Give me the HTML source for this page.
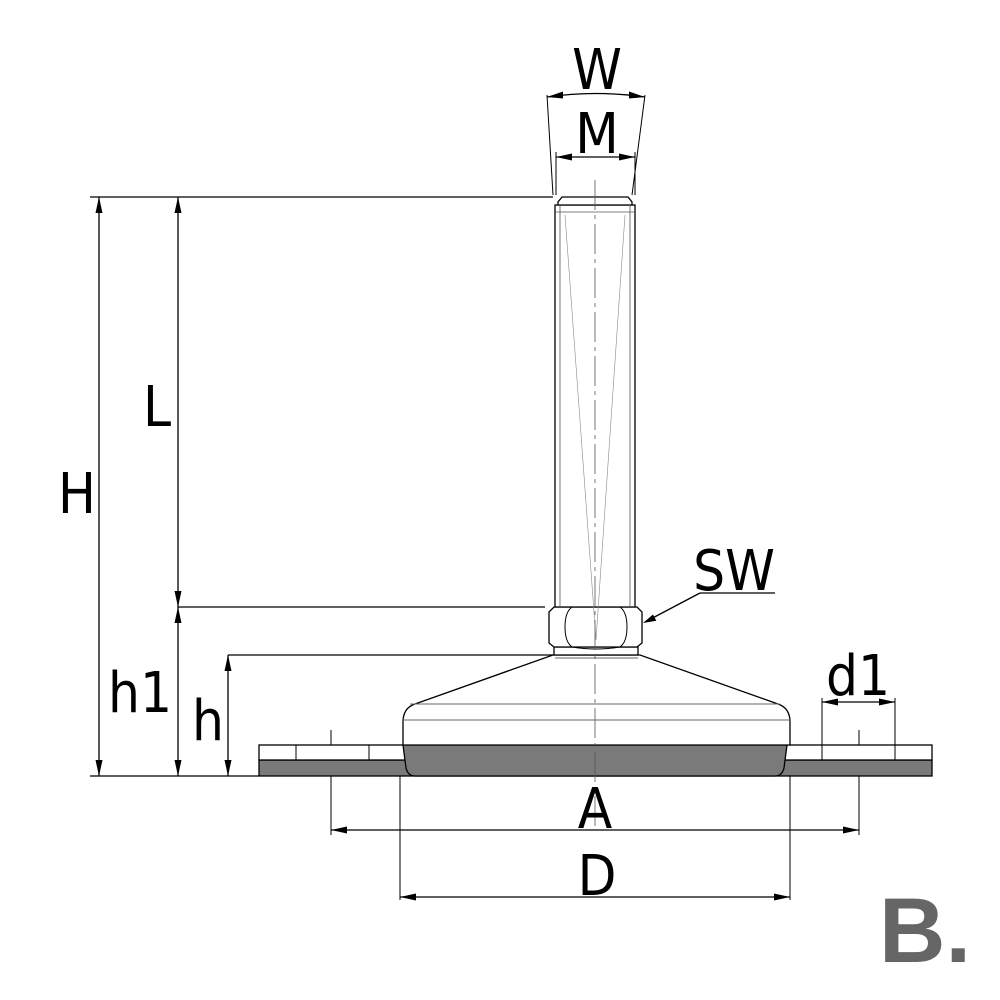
<!DOCTYPE html><html><head><style>body{margin:0;background:#fff}svg{display:block}text{font-family:"DejaVu Sans Condensed","Liberation Sans Narrow","Liberation Sans",sans-serif;fill:#000}</style></head><body>
<svg width="1000" height="1000" viewBox="0 0 1000 1000">
<g stroke="#000" stroke-width="1.3" fill="none">
<path d="M90 197H553M178 607H545M228 655H555M90 776H259" stroke-width="1.2"/>
<path d="M99 197V776M178 197V607M178 607V776M228 655V776"/>
<path d="M331 830H859M400 897H790M822 702H895M556 157H635"/>
<path d="M547 97Q596 90 645 97"/>
<path d="M547 95L553 195M645 95L632 195M556 152V195M635 152V195" stroke-width="1"/>
<path d="M331 730V835M859 730V835M400 776V900M790 776V900M822 698V745M895 698V745" stroke-width="1"/>
<rect x="259" y="760" width="673" height="16" fill="#7a7a7a"/>
<rect x="259" y="745" width="673" height="15" fill="#fff"/>
<path d="M296 745V760M369 745V760M822 745V760M895 745V760" stroke-width="1"/>
<path d="M403 745H787L784 768Q782 776 775 776H415Q408 776 406 768Z" fill="#7a7a7a"/>
<path d="M403 745V722Q403 708 415 704L553 655H640L778 704Q790 708 790 722V745Z" fill="#fff"/>
<path d="M410 704H780M403 720H790M555 658H638" stroke-width="1" stroke="#666"/>
<rect x="554" y="647" width="84" height="8" fill="#fff"/>
<path d="M549 612L554 607H637L642 612V643L637 647H554L549 643Z" fill="#fff"/>
<path d="M572 607Q565 612 565 627Q565 642 572 647M620 607Q627 612 627 627Q627 642 620 647M572 607Q596 603 620 607M572 647Q596 651 620 647" stroke-width="1"/>
<rect x="555" y="205" width="80" height="402" fill="#fff"/>
<path d="M562 197H628L632 202V205H558V202Z" fill="#fff"/>
<path d="M560 205V607M630 205V607M555 212H635" stroke-width="0.8" stroke="#555"/>
<path d="M565 215L596 640L625 215" stroke-width="0.6" stroke="#888"/>
<path d="M595 180V830" stroke-width="0.8" stroke="#555" stroke-dasharray="30 5 4 5"/>
<path d="M700 593H775M700 593L645 622"/>
</g>
<g fill="#000">
<!-- vertical arrows -->
<path d="M99 197l-3.5 16h7zM99 776l-3.5-16h7z"/>
<path d="M178 197l-3.5 16h7zM178 607l-3.5-16h7z"/>
<path d="M178 607l-3.5 16h7zM178 776l-3.5-16h7z"/>
<path d="M228 655l-3.5 16h7zM228 776l-3.5-16h7z"/>
<!-- horizontal arrows -->
<path d="M331 830l16-3.5v7zM859 830l-16-3.5v7z"/>
<path d="M400 897l16-3.5v7zM790 897l-16-3.5v7z"/>
<path d="M822 702l16-3.5v7zM895 702l-16-3.5v7z"/>
<path d="M556 157l16-3.5v7zM635 157l-16-3.5v7z"/>
<path d="M547 97l16-5.5v7zM645 97l-16-5.5v7z"/>
<path d="M643 623l10-8.5l3.3 6.2z"/>
</g>
<g font-size="56">
<text x="597" y="89" text-anchor="middle">W</text>
<text x="597" y="153" text-anchor="middle">M</text>
<text x="157" y="426" text-anchor="middle">L</text>
<text x="77" y="513" text-anchor="middle">H</text>
<text x="140" y="712" text-anchor="middle">h1</text>
<text x="208" y="740" text-anchor="middle">h</text>
<text x="734" y="590" text-anchor="middle">SW</text>
<text x="858" y="695" text-anchor="middle">d1</text>
<text x="595" y="828" text-anchor="middle">A</text>
<text x="597" y="895" text-anchor="middle">D</text>
</g>
<text x="925" y="962" text-anchor="middle" font-size="92" font-weight="bold" style="fill:#666;font-family:'Liberation Sans',sans-serif">B.</text>
</svg></body></html>
